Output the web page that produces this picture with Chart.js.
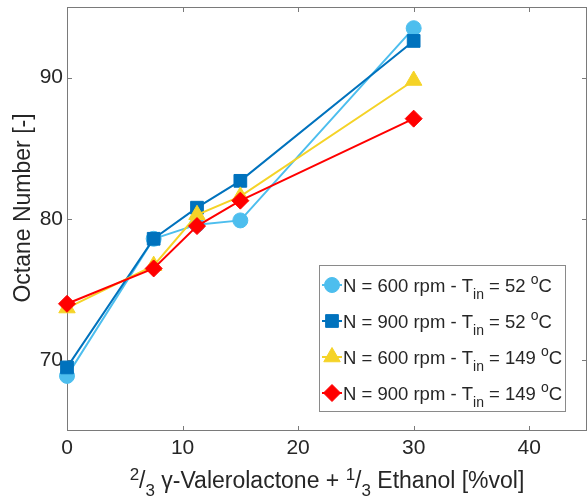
<!DOCTYPE html>
<html>
<head>
<meta charset="utf-8">
<script src="https://cdn.jsdelivr.net/npm/chart.js@4.4.0/dist/chart.umd.min.js"></script>
<style>
  html, body { margin: 0; padding: 0; background: #fff; }
</style>
</head>
<body>
<canvas id="octane-chart" width="588" height="503"></canvas>
<script>
// blend share [%vol] and octane numbers
const blendVol = [0, 7.5, 11.25, 15, 30];
const on600rpm52C = [68.9, 78.6, 79.6, 79.9, 93.5];
const on900rpm52C = [69.5, 78.6, 80.8, 82.7, 92.6];
const on600rpm149C = [73.7, 76.7, 80.3, 81.6, 89.8];
const on900rpm149C = [74.0, 76.5, 79.5, 81.3, 87.1];

const xTicks = [0, 10, 20, 30, 40];
const yTicks = [70, 80, 90];

// legend text pieces
const seriesSpeed = [600, 900, 600, 900];
const seriesTin = [52, 52, 149, 149];

const fontFamily = "'Liberation Sans', Arial, Helvetica, sans-serif";
const axisGray = '#7a7a7a';
const textDark = '#262626';

const seriesStyle = [
    { color: '#4DBEEE', pointStyle: 'circle', radius: 7.5 },
    { color: '#0072BD', pointStyle: 'rect', radius: 9 },
    { color: '#F5D327', pointStyle: 'triangle', radius: 9.5 },
    { color: '#FF0000', pointStyle: 'rectRot', radius: 8.5 }
];
const seriesValues = [on600rpm52C, on900rpm52C, on600rpm149C, on900rpm149C];

// draws text with sub (-1) / superscript (1) pieces, returns end x
function drawRich(ctx, parts, x, y, big, small, up, down, measureOnly) {
    parts.forEach(p => {
        ctx.font = (p.s ? small : big) + 'px ' + fontFamily;
        const dy = p.s === 1 ? -up : (p.s === -1 ? down : 0);
        if (!measureOnly) ctx.fillText(p.t, x, y + dy);
        x += ctx.measureText(p.t).width;
    });
    return x;
}

// keep the plot box where the figure has it
function fixScale(s, size) {
    if (s.isHorizontal()) s.height = size; else s.width = size;
    s.paddingTop = 0;
    s.paddingBottom = 0;
    s.paddingLeft = 0;
    s.paddingRight = 0;
}

// MATLAB style box with inward ticks
const axesBox = {
    id: 'axesBox',
    beforeDatasetsDraw(chart) {
        const { ctx, chartArea: a, scales: { x, y } } = chart;
        ctx.save();
        ctx.strokeStyle = axisGray;
        ctx.lineWidth = 1;
        ctx.strokeRect(a.left + 0.5, a.top + 0.5, a.right - a.left - 1, a.bottom - a.top - 1);
        ctx.beginPath();
        xTicks.forEach(v => {
            const px = Math.round(x.getPixelForValue(v)) + 0.5;
            ctx.moveTo(px, a.bottom); ctx.lineTo(px, a.bottom - 5);
            ctx.moveTo(px, a.top); ctx.lineTo(px, a.top + 5);
        });
        yTicks.forEach(v => {
            const py = Math.round(y.getPixelForValue(v)) + 0.5;
            ctx.moveTo(a.left, py); ctx.lineTo(a.left + 5, py);
            ctx.moveTo(a.right, py); ctx.lineTo(a.right - 5, py);
        });
        ctx.stroke();
        ctx.restore();
    }
};

// axis titles with fractions
const axisTitles = {
    id: 'axisTitles',
    afterDraw(chart) {
        const { ctx, chartArea: a } = chart;
        ctx.save();
        ctx.fillStyle = textDark;
        ctx.textBaseline = 'alphabetic';
        const xParts = [
            { t: '2', s: 1 }, { t: '/' }, { t: '3', s: -1 },
            { t: ' \u03B3-Valerolactone + ' },
            { t: '1', s: 1 }, { t: '/' }, { t: '3', s: -1 },
            { t: ' Ethanol [%vol]' }
        ];
        const w = drawRich(ctx, xParts, 0, 0, 23, 17, 8, 8, true);
        drawRich(ctx, xParts, (a.left + a.right) / 2 - w / 2, 488, 23, 17, 8, 8, false);

        ctx.translate(24, 208);
        ctx.rotate(-Math.PI / 2);
        ctx.font = '23px ' + fontFamily;
        ctx.textAlign = 'center';
        ctx.textBaseline = 'middle';
        ctx.fillText('Octane Number [-]', 0, 0);
        ctx.restore();
    }
};

// boxed legend in the lower right
const boxLegend = {
    id: 'boxLegend',
    afterDraw(chart) {
        const ctx = chart.ctx;
        const bx = 319, by = 265, bw = 246, bh = 146;
        ctx.save();
        ctx.fillStyle = '#fff';
        ctx.fillRect(bx, by, bw, bh);
        ctx.strokeStyle = '#8a8a8a';
        ctx.lineWidth = 1;
        ctx.strokeRect(bx + 0.5, by + 0.5, bw, bh);
        seriesStyle.forEach((st, i) => {
            const cy = 285 + i * 36;
            ctx.strokeStyle = st.color;
            ctx.fillStyle = st.color;
            ctx.lineWidth = 2;
            ctx.beginPath();
            ctx.moveTo(322, cy); ctx.lineTo(342, cy);
            ctx.stroke();
            ctx.lineWidth = 1;
            Chart.helpers.drawPoint(ctx, { pointStyle: st.pointStyle, radius: st.radius, rotation: 0, borderWidth: 1 }, 332, cy);
            ctx.fillStyle = textDark;
            ctx.textAlign = 'left';
            ctx.textBaseline = 'alphabetic';
            drawRich(ctx, [
                { t: 'N = ' + seriesSpeed[i] + ' rpm - T' },
                { t: 'in', s: -1 },
                { t: ' = ' + seriesTin[i] + ' ' },
                { t: 'o', s: 1 },
                { t: 'C' }
            ], 343, cy + 6.5, 18.5, 14, 8, 7, false);
        });
        ctx.restore();
    }
};

const ctx = document.getElementById('octane-chart').getContext('2d');
const octaneChart = new Chart(ctx, {
    type: 'line',
    data: {
        datasets: seriesValues.map((vals, i) => ({
            label: 'N = ' + seriesSpeed[i] + ' rpm - Tin = ' + seriesTin[i] + ' oC',
            data: blendVol.map((x, k) => ({ x: x, y: vals[k] })),
            borderColor: seriesStyle[i].color,
            backgroundColor: seriesStyle[i].color,
            pointStyle: seriesStyle[i].pointStyle,
            pointRadius: seriesStyle[i].radius,
            pointBorderWidth: 1,
            borderWidth: 2,
            tension: 0,
            clip: false,
            order: 3 - i
        }))
    },
    options: {
        responsive: false,
        animation: false,
        devicePixelRatio: 1,
        layout: { autoPadding: false, padding: { left: 0, top: 7, right: 1, bottom: 0 } },
        plugins: {
            legend: { display: false },
            tooltip: { enabled: false }
        },
        scales: {
            x: {
                type: 'linear',
                min: 0,
                max: 45,
                grid: { display: false, drawTicks: false },
                border: { display: false },
                afterBuildTicks: s => { s.ticks = xTicks.map(v => ({ value: v })); },
                afterFit: s => fixScale(s, 72),
                ticks: {
                    font: { family: fontFamily, size: 21 },
                    color: textDark,
                    padding: 5,
                    maxRotation: 0,
                    autoSkip: false
                }
            },
            y: {
                type: 'linear',
                min: 65,
                max: 95,
                grid: { display: false, drawTicks: false },
                border: { display: false },
                afterBuildTicks: s => { s.ticks = yTicks.map(v => ({ value: v })); },
                afterFit: s => fixScale(s, 67),
                ticks: {
                    font: { family: fontFamily, size: 21 },
                    color: textDark,
                    padding: 4,
                    autoSkip: false
                }
            }
        }
    },
    plugins: [axesBox, axisTitles, boxLegend]
});
</script>
</body>
</html>
